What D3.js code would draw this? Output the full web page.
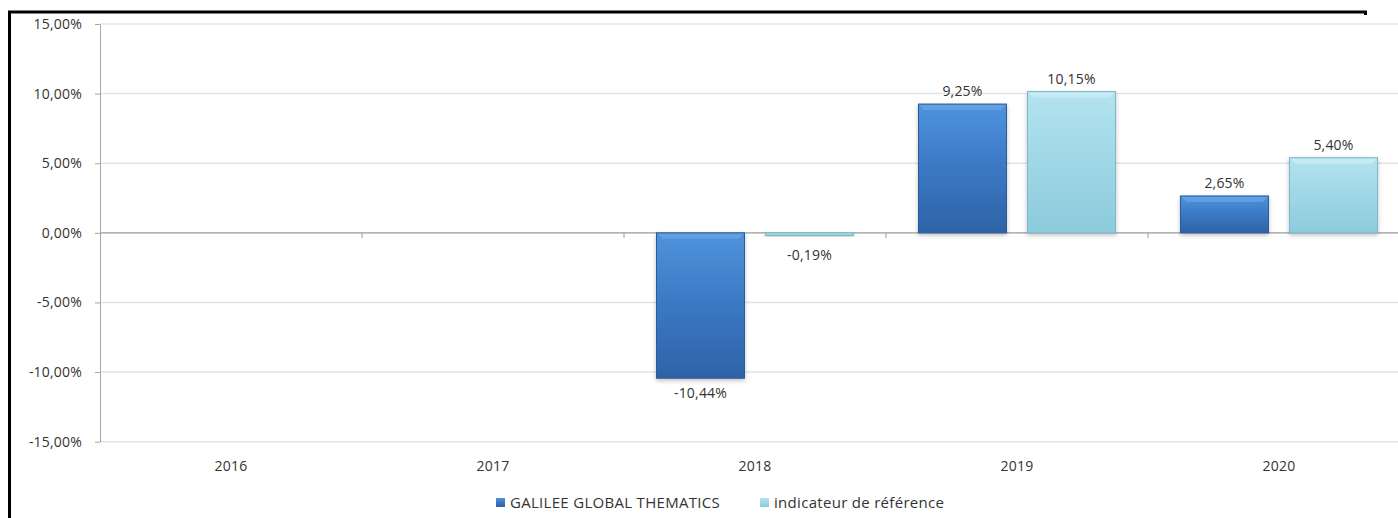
<!DOCTYPE html>
<html>
<head>
<meta charset="utf-8">
<script src="https://cdn.jsdelivr.net/npm/d3@7"></script>
<style>
  html, body { margin: 0; padding: 0; background: #fff; }
  svg { display: block; font-family: "Open Sans", "Noto Sans", sans-serif; }
  text { font-size: 14px; fill: #333; letter-spacing: 0.2px; }
  .legend text { font-size: 15px; letter-spacing: 0.3px; }
</style>
</head>
<body>
<svg width="1398" height="518"></svg>
<script>
// Chart data
const YEARS = ["2016", "2017", "2018", "2019", "2020"];
const SERIES = ["GALILEE GLOBAL THEMATICS", "indicateur de référence"];
const FUND = [null, null, -10.44, 9.25, 2.65];
const BENCH = [null, null, -0.19, 10.15, 5.40];
const Y_TICKS = [-15, -10, -5, 0, 5, 10, 15];

const fr = d3.formatLocale({ decimal: ",", thousands: " ", grouping: [3], currency: ["", " €"], minus: "-" });
const pct = v => fr.format(".2f")(v) + "%";

const svg = d3.select("svg");

// Plot area (right edge goes past the window, like the original export)
const plotLeft = 100, plotRight = 1410, plotTop = 24, plotBottom = 441.7;

const xScale = d3.scaleBand().domain(YEARS).range([plotLeft, plotRight]);
const yScale = d3.scaleLinear().domain([-15, 15]).range([plotBottom, plotTop]);

const barW = 88, gap = 21;
const seriesOffset = d3.scaleOrdinal()
  .domain(SERIES)
  .range([xScale.bandwidth() / 2 - gap / 2 - barW, xScale.bandwidth() / 2 + gap / 2]);

// Gradients for the bevelled bars
const defs = svg.append("defs");
const grads = [
  { id: "gBlue", stops: ["#4f93dd", "#3b78c4", "#2e63a6"] },
  { id: "gLight", stops: ["#b3e3ef", "#9fd7e6", "#8ccbdc"] }
];
grads.forEach(g => {
  const lg = defs.append("linearGradient").attr("id", g.id)
    .attr("x1", 0).attr("y1", 0).attr("x2", 0).attr("y2", 1);
  g.stops.forEach((c, i) => lg.append("stop").attr("offset", i / (g.stops.length - 1)).attr("stop-color", c));
});
const shadow = defs.append("filter").attr("id", "shadow").attr("x", "-10%").attr("y", "-10%").attr("width", "120%").attr("height", "130%");
shadow.append("feDropShadow").attr("dx", 0).attr("dy", 2).attr("stdDeviation", 2).attr("flood-color", "#000").attr("flood-opacity", 0.25);

// Gridlines
svg.append("g")
  .selectAll("line")
  .data(Y_TICKS)
  .enter()
  .append("line")
  .attr("x1", plotLeft).attr("x2", plotRight)
  .attr("y1", d => yScale(d)).attr("y2", d => yScale(d))
  .attr("stroke", d => d === 0 ? "#9a9a9a" : "#e3e3e3")
  .attr("stroke-width", d => d === 0 ? 1.2 : 1.5);

// Y axis
const yAxis = svg.append("g")
  .attr("transform", `translate(${plotLeft},0)`)
  .call(d3.axisLeft(yScale).tickValues(Y_TICKS).tickFormat(pct).tickSize(5).tickSizeOuter(0));
yAxis.select(".domain").attr("stroke", "#a6a6a6");
yAxis.selectAll(".tick line").attr("stroke", "#a6a6a6");
yAxis.attr("font-family", null).attr("font-size", null);
yAxis.selectAll(".tick text").attr("x", -18).attr("fill", null);

// Category ticks on the zero line
svg.append("g")
  .selectAll("line")
  .data(YEARS.slice(1))
  .enter()
  .append("line")
  .attr("x1", d => xScale(d)).attr("x2", d => xScale(d))
  .attr("y1", yScale(0)).attr("y2", yScale(0) + 5)
  .attr("stroke", "#9a9a9a");

// Year labels
svg.append("g")
  .selectAll("text")
  .data(YEARS)
  .enter()
  .append("text")
  .attr("x", d => xScale(d) + xScale.bandwidth() / 2)
  .attr("y", 471)
  .attr("text-anchor", "middle")
  .text(d => d);

// Bars
const rows = [];
YEARS.forEach((y, i) => {
  if (FUND[i] !== null) rows.push({ year: y, series: SERIES[0], value: FUND[i], fill: "url(#gBlue)", edge: "#2b5c9c", hi: "#6aa6e6" });
  if (BENCH[i] !== null) rows.push({ year: y, series: SERIES[1], value: BENCH[i], fill: "url(#gLight)", edge: "#7db9ca", hi: "#cdeef6" });
});

const bars = svg.append("g")
  .selectAll(".bar")
  .data(rows)
  .enter()
  .append("g")
  .classed("bar", true);

bars.append("rect")
  .attr("x", d => xScale(d.year) + seriesOffset(d.series))
  .attr("y", d => yScale(Math.max(0, d.value)))
  .attr("width", barW)
  .attr("height", d => Math.max(2, Math.abs(yScale(d.value) - yScale(0))))
  .attr("fill", d => d.fill)
  .attr("stroke", d => d.edge)
  .attr("stroke-width", 1)
  .attr("filter", "url(#shadow)");

// bevel highlight on top edge
bars.filter(d => Math.abs(yScale(d.value) - yScale(0)) > 8)
  .append("path")
  .attr("d", d => {
    const x0 = xScale(d.year) + seriesOffset(d.series) + 1;
    const y0 = yScale(Math.max(0, d.value)) + 1;
    const w = barW - 2;
    return `M${x0},${y0}h${w}l-5,5h${-(w - 10)}z`;
  })
  .attr("fill", d => d.hi)
  .attr("opacity", 0.7);

// Value labels
bars.append("text")
  .attr("x", d => xScale(d.year) + seriesOffset(d.series) + barW / 2)
  .attr("y", d => d.value >= 0 ? yScale(d.value) - 8 : Math.max(yScale(d.value) + 20, yScale(0) + 27))
  .attr("text-anchor", "middle")
  .text(d => pct(d.value));

// Legend
const legend = svg.append("g").classed("legend", true).attr("transform", "translate(496,498)");
const legendItems = [
  { label: SERIES[0], fill: "url(#gBlue)", x: 0 },
  { label: SERIES[1], fill: "url(#gLight)", x: 264 }
];
legendItems.forEach(item => {
  legend.append("rect").attr("x", item.x).attr("y", 0).attr("width", 9).attr("height", 9).attr("fill", item.fill);
  legend.append("text").attr("x", item.x + 14).attr("y", 10).text(item.label);
});

// Outer frame (top and left)
svg.append("path")
  .attr("d", "M9.5,518V12H1365.5V15")
  .attr("fill", "none")
  .attr("stroke", "#000")
  .attr("stroke-width", 3);
</script>
</body>
</html>
